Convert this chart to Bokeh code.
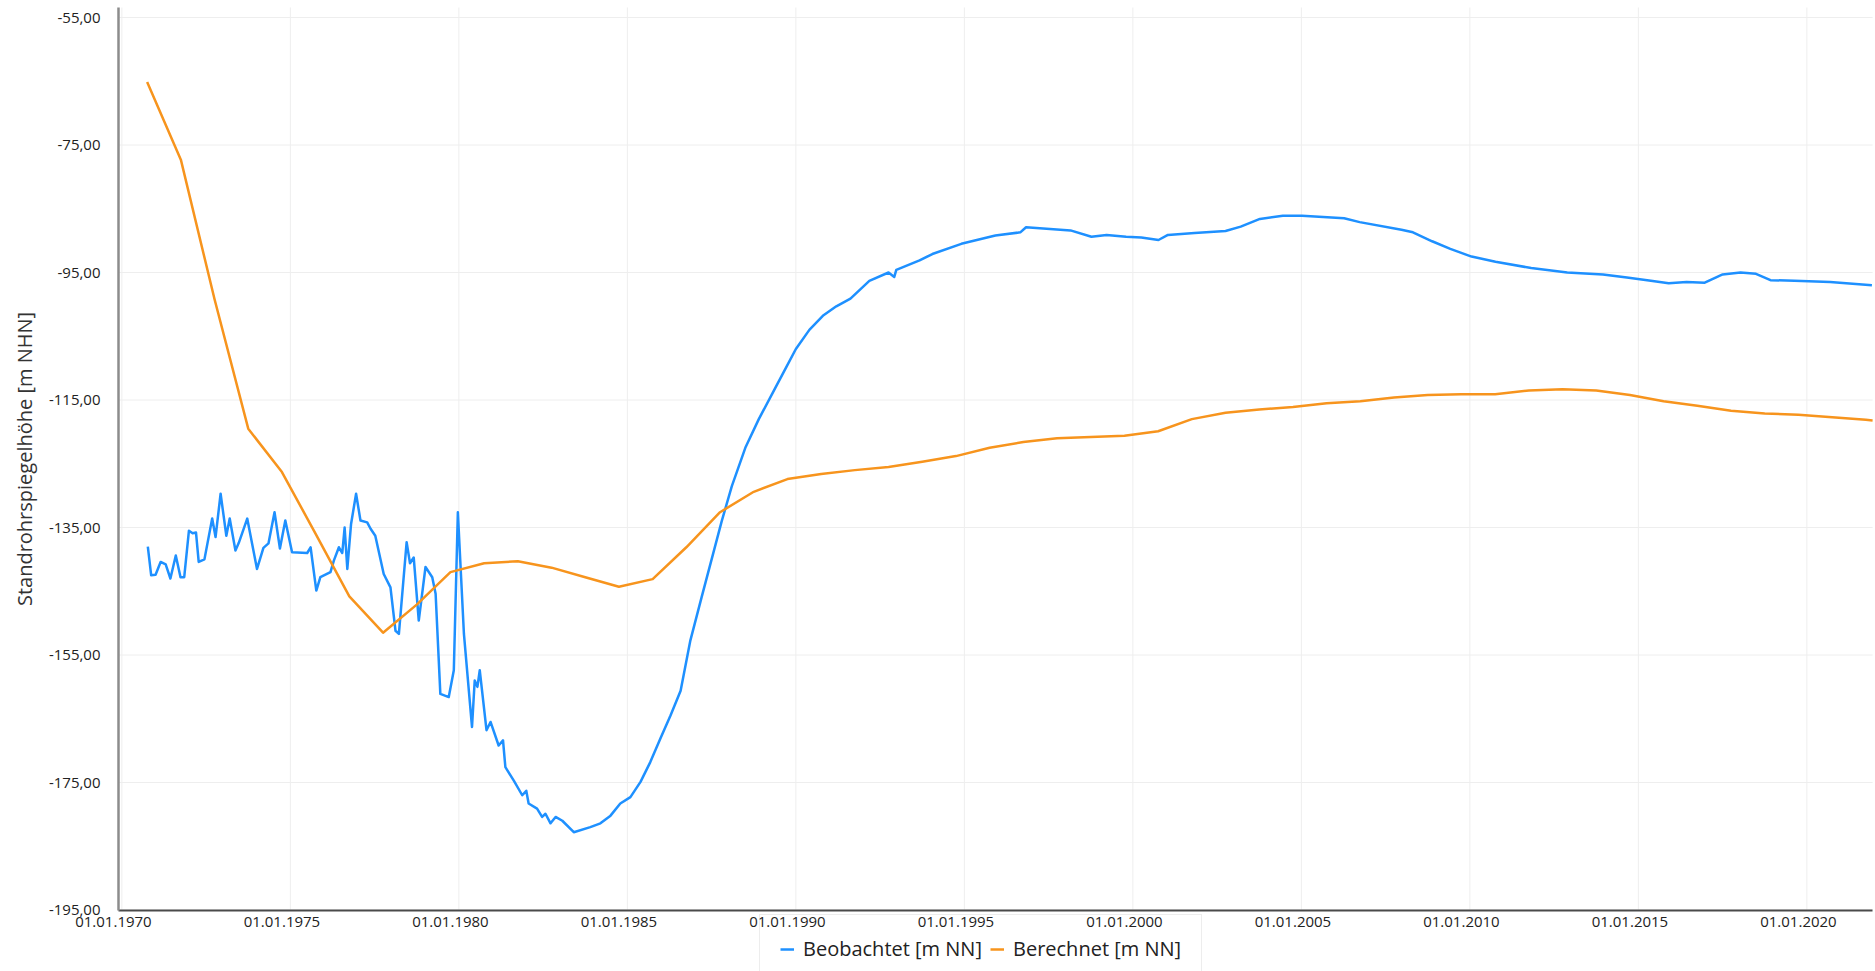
from bokeh.plotting import figure
from bokeh.models import (Range1d, FixedTicker, CustomJSTickFormatter, Legend, LegendItem,
                          LinearAxis)
from bokeh.core.properties import value
from bokeh.embed import file_html
from bokeh.resources import INLINE

FONT = "Open Sans"

# ---- data -------------------------------------------------------------
obs_year = [1970.77, 1970.87, 1971.00, 1971.15, 1971.30, 1971.44, 1971.60, 1971.74, 1971.85, 1971.99,
            1972.10, 1972.20, 1972.28, 1972.45, 1972.68, 1972.78, 1972.93, 1973.10, 1973.20, 1973.37,
            1973.47, 1973.72, 1974.01, 1974.20, 1974.35, 1974.53, 1974.69, 1974.85, 1975.05, 1975.50,
            1975.60, 1975.77, 1975.89, 1976.19, 1976.29, 1976.44, 1976.54, 1976.61, 1976.69, 1976.80,
            1976.95, 1977.08, 1977.28, 1977.38, 1977.52, 1977.77, 1977.97, 1978.12, 1978.22, 1978.45,
            1978.55, 1978.66, 1978.81, 1979.01, 1979.21, 1979.31, 1979.45, 1979.70, 1979.85, 1979.97,
            1980.15, 1980.39, 1980.47, 1980.55, 1980.62, 1980.82, 1980.94, 1981.18, 1981.31, 1981.38,
            1981.63, 1981.88, 1982.00, 1982.07, 1982.32, 1982.47, 1982.57, 1982.72, 1982.87, 1983.07,
            1983.41, 1983.90, 1984.20, 1984.50, 1984.79, 1985.09, 1985.39, 1985.68, 1985.98, 1986.28,
            1986.58, 1986.87, 1987.20, 1987.50, 1987.80, 1988.10, 1988.50, 1988.90, 1989.30, 1989.70,
            1990.00, 1990.40, 1990.80, 1991.20, 1991.62, 1992.18, 1992.75, 1992.92, 1992.98, 1993.67,
            1994.05, 1994.91, 1995.92, 1996.66, 1996.83, 1998.15, 1998.77, 1999.22, 1999.80, 2000.25,
            2000.76, 2001.04, 2001.83, 2002.75, 2003.20, 2003.77, 2004.45, 2005.02, 2006.27, 2006.73,
            2007.97, 2008.31, 2008.88, 2009.42, 2010.05, 2010.76, 2011.82, 2012.89, 2013.95, 2014.66,
            2015.37, 2015.90, 2016.43, 2016.97, 2017.50, 2018.03, 2018.49, 2018.92, 2019.63, 2020.69,
            2021.93]
obs_level = [-138.0, -142.5, -142.4, -140.4, -140.8, -143.0, -139.4, -142.8, -142.8, -135.5,
             -135.9, -135.8, -140.4, -140.0, -133.6, -136.5, -129.7, -136.3, -133.6, -138.6,
             -137.4, -133.6, -141.5, -138.2, -137.5, -132.6, -138.3, -133.9, -138.9, -139.0,
             -138.1, -144.9, -142.8, -142.0, -140.2, -138.1, -139.0, -135.0, -141.5, -134.5,
             -129.7, -133.9, -134.2, -135.2, -136.3, -142.3, -144.4, -151.2, -151.7, -137.3,
             -140.6, -139.7, -149.6, -141.2, -142.8, -145.4, -161.1, -161.6, -157.4, -132.6,
             -151.7, -166.3, -159.0, -160.0, -157.4, -166.8, -165.5, -169.2, -168.4, -172.6,
             -174.7, -177.0, -176.3, -178.3, -179.1, -180.4, -179.9, -181.4, -180.4, -181.0,
             -182.8, -182.0, -181.4, -180.2, -178.3, -177.3, -174.9, -171.8, -168.1, -164.5,
             -160.6, -152.7, -146.0, -140.0, -134.0, -128.5, -122.5, -118.0, -114.0, -110.0,
             -107.0, -104.0, -101.8, -100.3, -99.1, -96.3, -95.0, -95.7, -94.6, -93.1,
             -92.1, -90.5, -89.2, -88.7, -87.9, -88.4, -89.4, -89.1, -89.4, -89.5,
             -89.9, -89.1, -88.8, -88.5, -87.8, -86.6, -86.1, -86.1, -86.5, -87.1,
             -88.3, -88.7, -90.1, -91.3, -92.5, -93.3, -94.3, -95.0, -95.3, -95.8,
             -96.3, -96.7, -96.5, -96.6, -95.3, -95.0, -95.2, -96.2, -96.3, -96.5,
             -97.0]

calc_year = [1970.75, 1971.75, 1972.75, 1973.75, 1974.75, 1975.75, 1976.75, 1977.75, 1978.75, 1979.75,
             1980.75, 1981.75, 1982.75, 1983.75, 1984.75, 1985.75, 1986.75, 1987.75, 1988.75, 1989.75,
             1990.75, 1991.75, 1992.75, 1993.75, 1994.75, 1995.75, 1996.75, 1997.75, 1998.75, 1999.75,
             2000.75, 2001.75, 2002.75, 2003.75, 2004.75, 2005.75, 2006.75, 2007.75, 2008.75, 2009.75,
             2010.75, 2011.75, 2012.75, 2013.75, 2014.75, 2015.75, 2016.75, 2017.75, 2018.75, 2019.75,
             2020.75, 2021.75, 2021.95]
calc_level = [-65.1, -77.3, -99.2, -119.5, -126.3, -136.0, -145.8, -151.5, -147.1, -142.0,
              -140.6, -140.3, -141.3, -142.8, -144.3, -143.1, -138.1, -132.6, -129.4, -127.4,
              -126.6, -126.0, -125.5, -124.7, -123.8, -122.5, -121.6, -121.0, -120.8, -120.6,
              -119.9, -118.0, -117.0, -116.5, -116.1, -115.5, -115.2, -114.6, -114.2, -114.1,
              -114.1, -113.5, -113.3, -113.5, -114.2, -115.2, -115.9, -116.7, -117.1, -117.3,
              -117.7, -118.1, -118.2]

x_ticks = [1970, 1975, 1980, 1985, 1990, 1995, 2000, 2005, 2010, 2015, 2020]
y_ticks = [-55, -75, -95, -115, -135, -155, -175, -195]

series_names = ["Beobachtet [m NN]", "Berechnet [m NN]"]
y_title = "Standrohrspiegelhöhe [m NHN]"

# plot area limits (data units)
X0, X1 = 1969.9, 2021.95          # extent of the x axis line
Y0, Y1 = -195.0, -53.43           # extent of the y axis line

# ---- figure -------------------------------------------------------------
W, H = 1875, 971
PX_PER_YEAR = 33.7
PX_PER_M = 6.375
x_start = X0 - 118 / PX_PER_YEAR
x_end = x_start + W / PX_PER_YEAR
y_end = -55 + 17 / PX_PER_M
y_start = y_end - H / PX_PER_M

p = figure(width=W, height=H, output_backend="svg", toolbar_location=None,
           x_range=Range1d(x_start, x_end), y_range=Range1d(y_start, y_end),
           min_border=0, background_fill_color="white", border_fill_color="white")
p.outline_line_color = None
p.xgrid.visible = False
p.ygrid.visible = False

# grid lines limited to the plotting area
p.segment(x0=x_ticks, y0=[Y0] * len(x_ticks), x1=x_ticks, y1=[Y1] * len(x_ticks),
          line_color="#eeeeee", line_width=1, level="underlay")
p.segment(x0=[X0] * len(y_ticks), y0=y_ticks, x1=[X1] * len(y_ticks), y1=y_ticks,
          line_color="#eeeeee", line_width=1, level="underlay")

# y axis
ya = p.yaxis[0]
ya.fixed_location = X0
ya.bounds = (Y0, Y1)
ya.ticker = FixedTicker(ticks=y_ticks)
ya.formatter = CustomJSTickFormatter(code="return tick.toFixed(2).replace('.', ',');")
ya.major_tick_in = 0
ya.major_tick_out = 0
ya.minor_tick_in = 0
ya.minor_tick_out = 0
ya.major_label_standoff = 18
ya.major_label_text_font = FONT
ya.major_label_text_font_size = "15px"
ya.major_label_text_color = "#222222"
ya.axis_line_color = "#8c8c8c"
ya.axis_line_width = 2.5
ya.axis_label = y_title
ya.axis_label_text_font = FONT
ya.axis_label_text_font_size = "20px"
ya.axis_label_text_font_style = "normal"
ya.axis_label_text_color = "#333333"
ya.axis_label_standoff = 8

# x axis line
xa = p.xaxis[0]
xa.fixed_location = Y0
xa.bounds = (X0, X1)
xa.ticker = FixedTicker(ticks=[])
xa.major_tick_in = 0
xa.major_tick_out = 0
xa.minor_tick_in = 0
xa.minor_tick_out = 0
xa.axis_line_color = "#4a4a4a"
xa.axis_line_width = 2

# x tick labels (sit slightly left of their grid line, as in the original)
SHIFT = 0.25
p.extra_x_ranges = {"lab": Range1d(x_start + SHIFT, x_end + SHIFT)}
xl = LinearAxis(x_range_name="lab", fixed_location=Y0,
                ticker=FixedTicker(ticks=x_ticks),
                formatter=CustomJSTickFormatter(code="return '01.01.' + Math.round(tick);"))
xl.axis_line_color = None
xl.major_tick_in = 0
xl.major_tick_out = 0
xl.minor_tick_in = 0
xl.minor_tick_out = 0
xl.major_label_standoff = 7
xl.major_label_text_font = FONT
xl.major_label_text_font_size = "15px"
xl.major_label_text_color = "#222222"
p.add_layout(xl, "below")

# lines
r_obs = p.line(obs_year, obs_level, line_color="#1E90FF", line_width=2.5, line_join="round")
r_calc = p.line(calc_year, calc_level, line_color="#F7941D", line_width=2.5, line_join="round")

legend = Legend(items=[LegendItem(label=series_names[0], renderers=[r_obs]),
                       LegendItem(label=series_names[1], renderers=[r_calc])],
                location=(759, -12), orientation="horizontal",
                glyph_width=14, glyph_height=20, label_standoff=9, spacing=8,
                padding=20, margin=0,
                label_text_font=FONT, label_text_font_size="20px", label_text_color="#222222",
                border_line_color="#dcdcdc", border_line_width=1,
                background_fill_alpha=0)
p.add_layout(legend, "center")

open("out.html", "w").write(file_html(p, INLINE))
